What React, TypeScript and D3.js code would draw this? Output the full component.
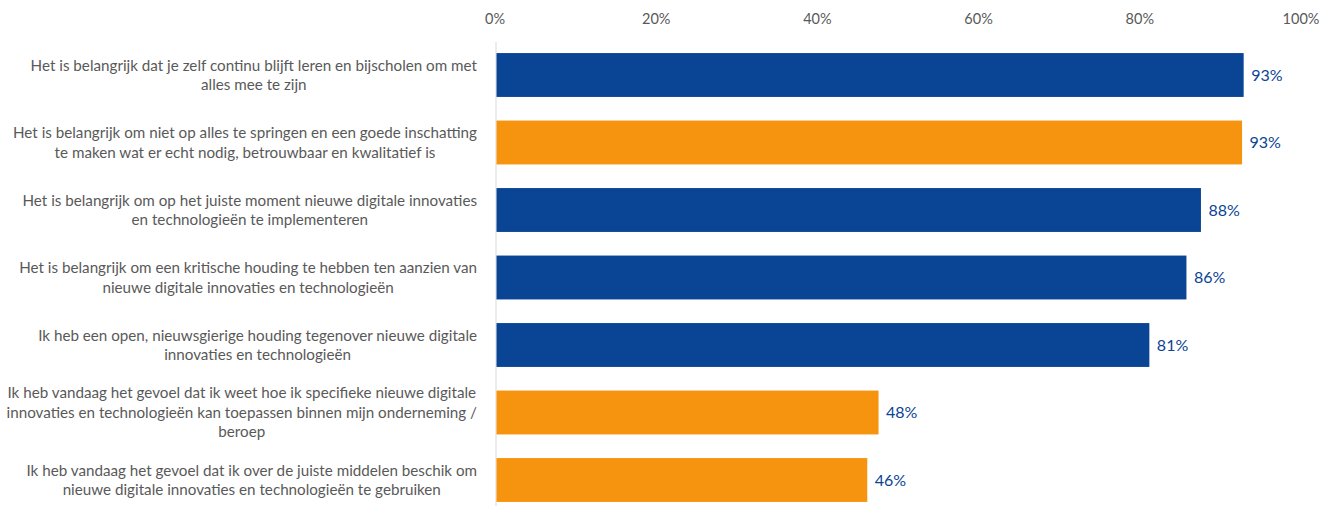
import React, { useEffect, useRef } from "react";
import * as d3 from "d3";

const categories: string[][] = [
  ["Het is belangrijk dat je zelf continu blijft leren en bijscholen om met", "alles mee te zijn"],
  ["Het is belangrijk om niet op alles te springen en een goede inschatting", "te maken wat er echt nodig, betrouwbaar en kwalitatief is"],
  ["Het is belangrijk om op het juiste moment nieuwe digitale innovaties", "en technologieën te implementeren"],
  ["Het is belangrijk om een kritische houding te hebben ten aanzien van", "nieuwe digitale innovaties en technologieën"],
  ["Ik heb een open, nieuwsgierige houding tegenover nieuwe digitale", "innovaties en technologieën"],
  ["Ik heb vandaag het gevoel dat ik weet hoe ik specifieke nieuwe digitale", "innovaties en technologieën kan toepassen binnen mijn onderneming /", "beroep"],
  ["Ik heb vandaag het gevoel dat ik over de juiste middelen beschik om", "nieuwe digitale innovaties en technologieën te gebruiken"],
];
const values: number[] = [92.7, 92.5, 87.4, 85.6, 81.0, 47.4, 46.0];
const valueLabels: string[] = ["93%", "93%", "88%", "86%", "81%", "48%", "46%"];
const groups: string[] = ["blue", "orange", "blue", "blue", "blue", "orange", "orange"];
const ticks: number[] = [0, 20, 40, 60, 80, 100];

const W = 1330;
const H = 506;
const FONT = "Lato, 'Open Sans', sans-serif";

export default function App() {
  const ref = useRef<SVGSVGElement>(null);
  useEffect(() => {
    const svg = d3.select(ref.current);
    svg.selectAll("*").remove();
    const x = d3.scaleLinear().domain([0, 100]).range([496, 1302]);
    const y = d3
      .scaleBand<number>()
      .domain(d3.range(values.length))
      .range([41.25, 513.75])
      .paddingInner(0.35)
      .paddingOuter(0.175);
    const color = d3.scaleOrdinal<string, string>().domain(["blue", "orange"]).range(["#0a4494", "#f7940f"]);

    svg
      .append("line")
      .attr("x1", x(0))
      .attr("x2", x(0))
      .attr("y1", 42)
      .attr("y2", H)
      .attr("stroke", "#d9d9d9")
      .attr("stroke-width", 1);

    svg
      .append("g")
      .selectAll("text")
      .data(ticks)
      .join("text")
      .attr("x", (d) => x(d) - 1)
      .attr("y", 24)
      .attr("text-anchor", "middle")
      .attr("font-family", FONT)
      .attr("font-size", 14.5)
      .attr("fill", "#595959")
      .text((d) => `${d}%`);

    svg
      .append("g")
      .selectAll("rect")
      .data(values)
      .join("rect")
      .attr("x", x(0) + 0.5)
      .attr("y", (_, i) => y(i)!)
      .attr("width", (d) => x(d) - x(0))
      .attr("height", y.bandwidth())
      .attr("fill", (_, i) => color(groups[i]));

    svg
      .append("g")
      .selectAll("text")
      .data(values)
      .join("text")
      .attr("x", (d) => x(d) + 8)
      .attr("y", (_, i) => y(i)! + y.bandwidth() / 2)
      .attr("dy", "0.35em")
      .attr("font-family", FONT)
      .attr("font-size", 16)
      .attr("fill", "#0a4494")
      .text((_, i) => valueLabels[i]);

    const lh = 19.5;
    const rightEdge = 477;
    categories.forEach((lines, i) => {
      const cy = y(i)! + y.bandwidth() / 2;
      const g = svg.append("g");
      const texts = g
        .selectAll("text")
        .data(lines)
        .join("text")
        .attr("y", (_, k) => cy + (k - (lines.length - 1) / 2) * lh)
        .attr("dy", "0.35em")
        .attr("text-anchor", "middle")
        .attr("font-family", FONT)
        .attr("font-size", 15.2)
        .attr("fill", "#595959")
        .text((d) => d);
      let maxW = 0;
      texts.each(function () {
        maxW = Math.max(maxW, (this as SVGTextElement).getComputedTextLength());
      });
      texts.attr("x", rightEdge - maxW / 2);
    });
  }, []);
  return (
    <svg
      ref={ref}
      width={W}
      height={H}
      style={{ position: "absolute", left: 0, top: 0, background: "#fff" }}
    />
  );
}
